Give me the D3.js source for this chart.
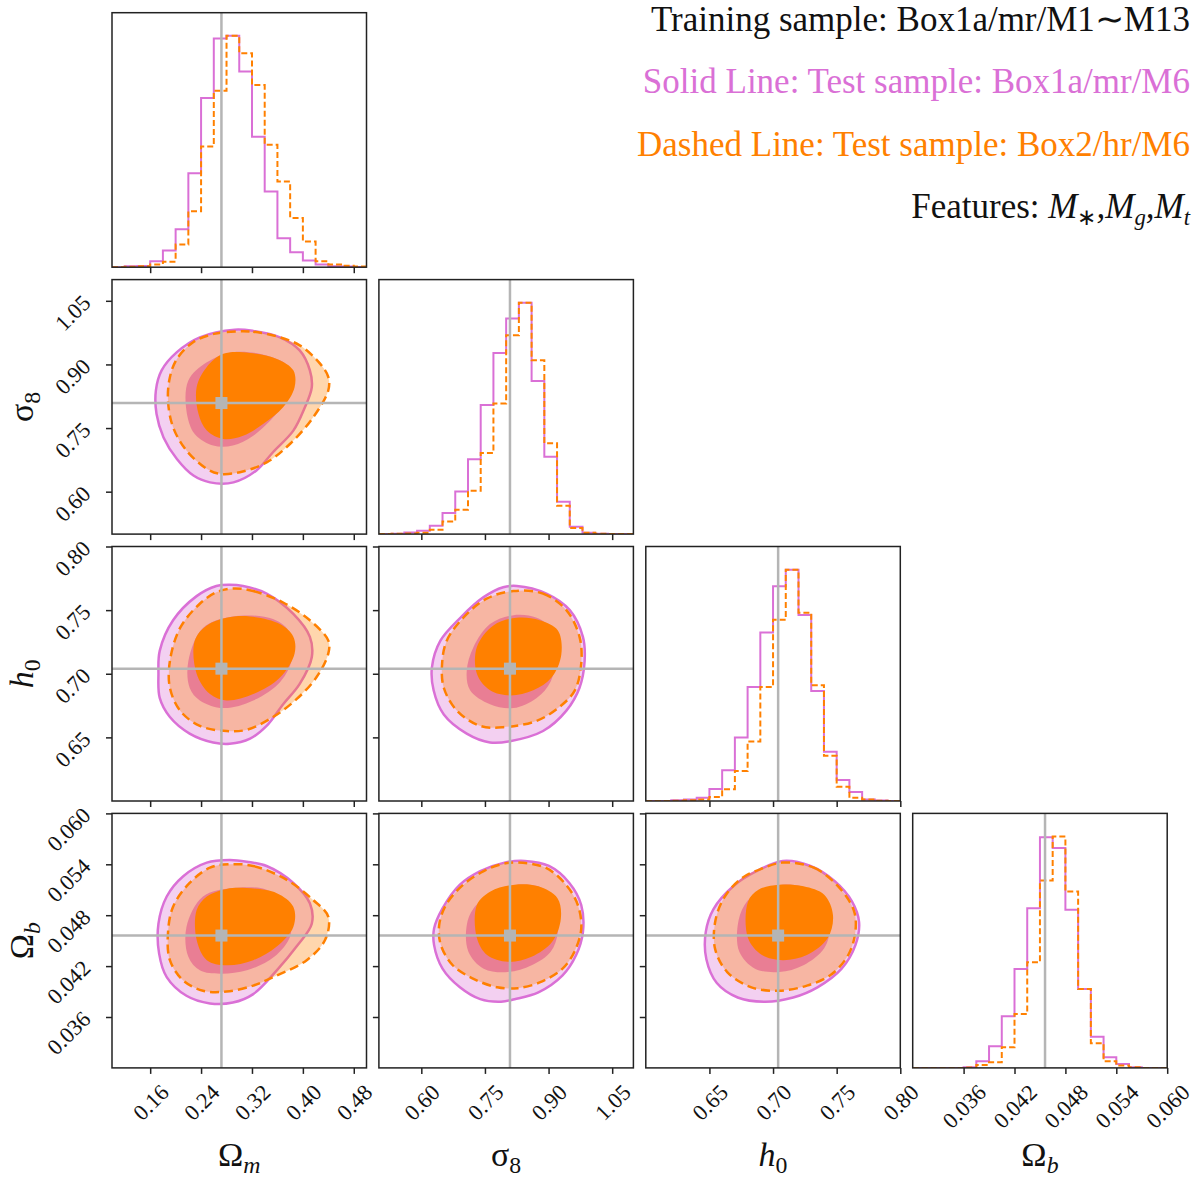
<!DOCTYPE html>
<html>
<head>
<meta charset="utf-8">
<script src="https://cdn.jsdelivr.net/npm/d3@7"></script>
<style>
body{margin:0;background:#fff;}
svg text{font-family:"Liberation Serif","Times New Roman",serif;}
</style>
</head>
<body>
<div id="content"></div>
<script>
//parameters, truths, axis domains and ticks
var paramNames  = ['\u03A9', '\u03C3', 'h', '\u03A9'];
var paramSubs   = ['m', '8', '0', 'b'];
var nameItalic  = [false, false, true, false];
var subItalic   = [true, false, false, true];
var truthValues = [0.272, 0.809, 0.704, 0.0456];
var axisDomains = [[0.10, 0.50], [0.50, 1.10], [0.60, 0.80], [0.030, 0.060]];
var tickValues  = [[0.16, 0.24, 0.32, 0.40, 0.48], [0.60, 0.75, 0.90, 1.05], [0.65, 0.70, 0.75, 0.80], [0.036, 0.042, 0.048, 0.054, 0.060]];
var tickFormats = ['.2f', '.2f', '.2f', '.3f'];

//legend
var legendLines  = ['Training sample: Box1a/mr/M1\u223CM13', 'Solid Line: Test sample: Box1a/mr/M6', 'Dashed Line: Test sample: Box2/hr/M6'];
var legendColors = ['#111', '#da70d6', '#ff8000'];
var featureSubs  = ['\u2217', 'g', 't'];

//1d histograms, 20 bins over the axis domain (relative heights)
var omHistSolid = [0, 0.004, 0.005, 0.026, 0.072, 0.164, 0.406, 0.731, 0.988, 1.0, 0.846, 0.564, 0.327, 0.125, 0.065, 0.029, 0.012, 0.004, 0.003, 0.001];
var omHistDash  = [0, 0.002, 0.004, 0.012, 0.024, 0.098, 0.242, 0.522, 0.763, 1.0, 0.925, 0.787, 0.529, 0.370, 0.213, 0.111, 0.026, 0.012, 0.006, 0.003];
var s8HistSolid = [0, 0.002, 0.007, 0.014, 0.036, 0.091, 0.184, 0.324, 0.558, 0.783, 0.932, 1.0, 0.662, 0.334, 0.140, 0.032, 0.006, 0.002, 0, 0];
var s8HistDash  = [0, 0.001, 0.003, 0.006, 0.019, 0.055, 0.105, 0.187, 0.350, 0.564, 0.860, 1.0, 0.751, 0.393, 0.122, 0.026, 0.006, 0.001, 0, 0];
var h0HistSolid = [0, 0, 0.003, 0.006, 0.014, 0.052, 0.133, 0.275, 0.493, 0.728, 0.928, 1.0, 0.804, 0.475, 0.213, 0.091, 0.039, 0.007, 0.002, 0];
var h0HistDash  = [0, 0, 0.001, 0.003, 0.007, 0.017, 0.051, 0.130, 0.257, 0.493, 0.783, 1.0, 0.814, 0.500, 0.196, 0.062, 0.014, 0.006, 0.001, 0];
var obHistSolid = [0, 0, 0, 0, 0.003, 0.029, 0.094, 0.223, 0.428, 0.690, 0.997, 0.950, 0.684, 0.341, 0.135, 0.046, 0.017, 0.003, 0, 0];
var obHistDash  = [0, 0, 0, 0, 0.002, 0.013, 0.024, 0.089, 0.233, 0.457, 0.810, 1.0, 0.762, 0.341, 0.107, 0.029, 0.010, 0.003, 0, 0];

//2d contours, [x, y] in data units
var omS8SolidOuter = [[0.293,0.982],[0.322,0.979],[0.364,0.964],[0.395,0.933],[0.411,0.886],[0.414,0.846],[0.402,0.795],[0.385,0.744],[0.353,0.693],[0.327,0.650],[0.291,0.622],[0.254,0.622],[0.228,0.638],[0.202,0.677],[0.181,0.728],[0.170,0.783],[0.169,0.839],[0.178,0.886],[0.202,0.929],[0.238,0.964]];
var omS8SolidInner = [[0.290,0.929],[0.343,0.921],[0.378,0.894],[0.383,0.839],[0.358,0.783],[0.322,0.732],[0.290,0.709],[0.259,0.709],[0.230,0.736],[0.217,0.791],[0.220,0.862],[0.249,0.905]];
var omS8DashOuter  = [[0.296,0.978],[0.322,0.977],[0.359,0.966],[0.395,0.945],[0.427,0.902],[0.440,0.870],[0.440,0.839],[0.416,0.775],[0.380,0.713],[0.343,0.669],[0.301,0.646],[0.270,0.642],[0.249,0.654],[0.217,0.697],[0.196,0.752],[0.188,0.815],[0.191,0.870],[0.202,0.913],[0.228,0.953],[0.260,0.972]];
var omS8DashInner  = [[0.275,0.925],[0.317,0.927],[0.359,0.913],[0.385,0.886],[0.387,0.846],[0.369,0.799],[0.338,0.760],[0.306,0.732],[0.275,0.724],[0.249,0.744],[0.236,0.783],[0.233,0.846],[0.249,0.894]];

var omH0SolidOuter = [[0.285,0.770],[0.306,0.769],[0.343,0.763],[0.385,0.747],[0.411,0.729],[0.414,0.713],[0.395,0.692],[0.369,0.676],[0.343,0.659],[0.317,0.649],[0.285,0.645],[0.259,0.646],[0.222,0.653],[0.191,0.666],[0.175,0.681],[0.173,0.700],[0.175,0.718],[0.196,0.742],[0.233,0.761],[0.264,0.769]];
var omH0SolidInner = [[0.220,0.710],[0.222,0.689],[0.238,0.679],[0.275,0.673],[0.322,0.679],[0.365,0.694],[0.383,0.712],[0.380,0.732],[0.353,0.743],[0.290,0.745],[0.243,0.736]];
var omH0DashOuter  = [[0.290,0.767],[0.322,0.765],[0.369,0.756],[0.411,0.742],[0.440,0.726],[0.440,0.716],[0.421,0.697],[0.390,0.680],[0.353,0.666],[0.312,0.656],[0.280,0.655],[0.238,0.659],[0.207,0.671],[0.191,0.689],[0.191,0.710],[0.207,0.736],[0.238,0.755],[0.264,0.764]];
var omH0DashInner  = [[0.230,0.726],[0.233,0.700],[0.254,0.684],[0.280,0.679],[0.322,0.684],[0.364,0.697],[0.387,0.716],[0.385,0.729],[0.364,0.739],[0.317,0.745],[0.280,0.744],[0.249,0.738]];

var s8H0SolidOuter = [[0.825,0.769],[0.895,0.763],[0.950,0.750],[0.981,0.729],[0.985,0.710],[0.973,0.689],[0.942,0.671],[0.887,0.655],[0.809,0.647],[0.762,0.646],[0.707,0.653],[0.653,0.668],[0.629,0.687],[0.625,0.705],[0.645,0.726],[0.692,0.744],[0.746,0.760],[0.793,0.768]];
var s8H0SolidInner = [[0.707,0.702],[0.715,0.687],[0.762,0.676],[0.817,0.673],[0.872,0.681],[0.905,0.694],[0.918,0.715],[0.911,0.734],[0.872,0.744],[0.817,0.746],[0.762,0.739],[0.723,0.721]];
var s8H0DashOuter  = [[0.817,0.765],[0.887,0.763],[0.942,0.750],[0.973,0.729],[0.977,0.708],[0.962,0.687],[0.926,0.674],[0.872,0.663],[0.793,0.658],[0.739,0.659],[0.684,0.671],[0.653,0.689],[0.649,0.708],[0.660,0.726],[0.699,0.744],[0.754,0.759]];
var s8H0DashInner  = [[0.731,0.721],[0.731,0.700],[0.762,0.687],[0.809,0.683],[0.864,0.687],[0.907,0.697],[0.930,0.715],[0.922,0.734],[0.879,0.742],[0.825,0.744],[0.770,0.738]];

var omObSolidOuter = [[0.285,0.0545],[0.312,0.0543],[0.343,0.0538],[0.385,0.0518],[0.411,0.0494],[0.414,0.0470],[0.390,0.0443],[0.359,0.0415],[0.322,0.0387],[0.290,0.0377],[0.254,0.0376],[0.217,0.0385],[0.186,0.0407],[0.174,0.0435],[0.173,0.0470],[0.186,0.0502],[0.212,0.0526],[0.249,0.0542]];
var omObSolidInner = [[0.217,0.0466],[0.220,0.0431],[0.238,0.0415],[0.270,0.0411],[0.312,0.0415],[0.355,0.0431],[0.380,0.0455],[0.380,0.0474],[0.370,0.0494],[0.343,0.0510],[0.290,0.0512],[0.243,0.0502]];
var omObDashOuter  = [[0.285,0.0540],[0.322,0.0538],[0.374,0.0522],[0.416,0.0498],[0.440,0.0478],[0.435,0.0451],[0.406,0.0427],[0.353,0.0407],[0.322,0.0397],[0.280,0.0390],[0.243,0.0391],[0.212,0.0403],[0.191,0.0427],[0.188,0.0459],[0.196,0.0490],[0.222,0.0518],[0.254,0.0536]];
var omObDashInner  = [[0.233,0.0486],[0.233,0.0451],[0.249,0.0427],[0.280,0.0421],[0.322,0.0427],[0.359,0.0443],[0.385,0.0466],[0.385,0.0490],[0.359,0.0506],[0.312,0.0512],[0.280,0.0511],[0.249,0.0502]];

var s8ObSolidOuter = [[0.844,0.0544],[0.901,0.0538],[0.949,0.0518],[0.977,0.0492],[0.981,0.0460],[0.965,0.0433],[0.933,0.0409],[0.876,0.0389],[0.820,0.0381],[0.788,0.0378],[0.739,0.0381],[0.691,0.0395],[0.650,0.0417],[0.630,0.0445],[0.630,0.0464],[0.650,0.0488],[0.691,0.0516],[0.739,0.0532],[0.796,0.0542]];
var s8ObSolidInner = [[0.707,0.0468],[0.711,0.0437],[0.747,0.0417],[0.804,0.0413],[0.860,0.0421],[0.905,0.0437],[0.922,0.0460],[0.918,0.0492],[0.885,0.0512],[0.828,0.0516],[0.771,0.0508],[0.723,0.0488]];
var s8ObDashOuter  = [[0.828,0.0542],[0.893,0.0536],[0.941,0.0516],[0.969,0.0492],[0.977,0.0464],[0.961,0.0437],[0.933,0.0417],[0.885,0.0402],[0.828,0.0394],[0.779,0.0395],[0.723,0.0405],[0.674,0.0421],[0.646,0.0445],[0.642,0.0468],[0.658,0.0492],[0.699,0.0516],[0.747,0.0532],[0.788,0.0540]];
var s8ObDashInner  = [[0.731,0.0492],[0.731,0.0453],[0.755,0.0433],[0.804,0.0425],[0.860,0.0431],[0.909,0.0449],[0.929,0.0476],[0.921,0.0500],[0.876,0.0514],[0.820,0.0516],[0.763,0.0508]];

var h0ObSolidOuter = [[0.7076,0.0544],[0.7294,0.0538],[0.7485,0.0520],[0.7621,0.0496],[0.7676,0.0472],[0.7648,0.0445],[0.7539,0.0417],[0.7349,0.0395],[0.7158,0.0383],[0.6939,0.0378],[0.6722,0.0383],[0.6558,0.0400],[0.6476,0.0428],[0.6471,0.0460],[0.6531,0.0487],[0.6694,0.0515],[0.6858,0.0531]];
var h0ObSolidInner = [[0.6722,0.0468],[0.6735,0.0437],[0.6858,0.0417],[0.7049,0.0413],[0.7239,0.0421],[0.7402,0.0441],[0.7450,0.0468],[0.7420,0.0496],[0.7266,0.0512],[0.7076,0.0516],[0.6885,0.0508],[0.6776,0.0492]];
var h0ObDashOuter  = [[0.7076,0.0542],[0.7321,0.0536],[0.7512,0.0514],[0.7634,0.0486],[0.7648,0.0462],[0.7594,0.0434],[0.7457,0.0410],[0.7266,0.0397],[0.7049,0.0391],[0.6830,0.0395],[0.6640,0.0413],[0.6545,0.0440],[0.6545,0.0472],[0.6613,0.0500],[0.6749,0.0523],[0.6913,0.0535]];
var h0ObDashInner  = [[0.6803,0.0496],[0.6803,0.0453],[0.6913,0.0433],[0.7076,0.0427],[0.7266,0.0433],[0.7430,0.0453],[0.7471,0.0480],[0.7402,0.0504],[0.7239,0.0514],[0.7049,0.0516],[0.6885,0.0510]];

var histSolid = [omHistSolid, s8HistSolid, h0HistSolid, obHistSolid];
var histDash  = [omHistDash, s8HistDash, h0HistDash, obHistDash];
//lookup by "row,col"
var contourSets = {
    '1,0': [omS8SolidOuter, omS8SolidInner, omS8DashOuter, omS8DashInner],
    '2,0': [omH0SolidOuter, omH0SolidInner, omH0DashOuter, omH0DashInner],
    '2,1': [s8H0SolidOuter, s8H0SolidInner, s8H0DashOuter, s8H0DashInner],
    '3,0': [omObSolidOuter, omObSolidInner, omObDashOuter, omObDashInner],
    '3,1': [s8ObSolidOuter, s8ObSolidInner, s8ObDashOuter, s8ObDashInner],
    '3,2': [h0ObSolidOuter, h0ObSolidInner, h0ObDashOuter, h0ObDashInner]
};

//layout + style
var panelX0    = 112;
var panelY0    = 12.7;
var panelSize  = 254.5;
var panelStep  = 266.9;
var solidColor = '#da70d6';
var dashColor  = '#ff8000';
var truthColor = '#b5b5b5';
var frameColor = '#222';
var tickFont   = 22.5;
var labelFont  = 34;
var legendFont = 35;
var nParams    = 4;

var svg = d3.select('#content').append('svg')
    .attr('width', 1200)
    .attr('height', 1179)
    .attr('viewBox', '0 0 1200 1179');

svg.append('rect').attr('width', 1200).attr('height', 1179).attr('fill', '#fff');

function colX(i){ return panelX0 + i * panelStep; }
function rowY(i){ return panelY0 + i * panelStep; }

var xScales = axisDomains.map(function(d, i){
    return d3.scaleLinear().domain(d).range([colX(i), colX(i) + panelSize]);
});
var yScales = axisDomains.map(function(d, i){
    return d3.scaleLinear().domain(d).range([rowY(i) + panelSize, rowY(i)]);
});

var defs = svg.append('defs');

function makePanel(r, c){
    var id = 'clip' + r + c;
    defs.append('clipPath').attr('id', id).append('rect')
        .attr('x', colX(c)).attr('y', rowY(r))
        .attr('width', panelSize).attr('height', panelSize);
    var g = svg.append('g').attr('class', 'panel');
    var inner = g.append('g').attr('clip-path', 'url(#' + id + ')');
    return {g: g, inner: inner};
}

//step histogram path
function drawHist(g, values, xs, ys, color, dash){
    var n = values.length;
    var d0 = xs.domain()[0], d1 = xs.domain()[1];
    var pts = [[d0, 0]];
    values.forEach(function(v, k){ pts.push([d0 + k * (d1 - d0) / n, v]); });
    pts.push([d1, 0]);
    var line = d3.line()
        .x(function(d){ return xs(d[0]); })
        .y(function(d){ return ys(d[1]); })
        .curve(d3.curveStepAfter);
    g.append('path')
        .attr('d', line(pts))
        .attr('fill', 'none')
        .attr('stroke', color)
        .attr('stroke-width', 2)
        .attr('stroke-dasharray', dash ? '6,3' : null);
}

function drawContour(g, pts, xs, ys, fill, opacity, stroke, dash){
    var line = d3.line()
        .x(function(d){ return xs(d[0]); })
        .y(function(d){ return ys(d[1]); })
        .curve(d3.curveCatmullRomClosed.alpha(0.5));
    g.append('path')
        .attr('d', line(pts))
        .attr('fill', fill)
        .attr('fill-opacity', opacity)
        .attr('stroke', stroke || 'none')
        .attr('stroke-width', stroke ? 2.5 : 0)
        .attr('stroke-dasharray', dash ? '9,5' : null)
        .attr('stroke-linejoin', 'round');
}

function drawBottomAxis(g, c, bottom, withLabels){
    var ax = g.append('g')
        .attr('transform', 'translate(0,' + bottom + ')')
        .attr('font-family', '"Liberation Serif", serif')
        .call(d3.axisBottom(xScales[c]).tickValues(tickValues[c]).tickSize(6).tickSizeOuter(0)
            .tickFormat(withLabels ? d3.format(tickFormats[c]) : ''));
    ax.select('.domain').remove();
    ax.selectAll('.tick line').attr('stroke', frameColor).attr('stroke-width', 1.5);
    if(!withLabels){ ax.selectAll('.tick text').remove(); return; }
    ax.selectAll('.tick text')
        .attr('font-size', tickFont)
        .attr('fill', '#111')
        .attr('text-anchor', 'middle')
        .attr('dy', '0.35em')
        .each(function(){
            var L = this.getComputedTextLength();
            var cy = 15 + 0.354 * (L + 0.68 * tickFont);
            d3.select(this).attr('x', 0).attr('y', cy)
                .attr('transform', 'rotate(-45,0,' + cy + ')');
        });
}

function drawLeftAxis(g, r, left, withLabels){
    var ax = g.append('g')
        .attr('transform', 'translate(' + left + ',0)')
        .attr('font-family', '"Liberation Serif", serif')
        .call(d3.axisLeft(yScales[r]).tickValues(tickValues[r]).tickSize(6).tickSizeOuter(0)
            .tickFormat(withLabels ? d3.format(tickFormats[r]) : ''));
    ax.select('.domain').remove();
    ax.selectAll('.tick line').attr('stroke', frameColor).attr('stroke-width', 1.5);
    if(!withLabels){ ax.selectAll('.tick text').remove(); return; }
    ax.selectAll('.tick text')
        .attr('font-size', tickFont)
        .attr('fill', '#111')
        .attr('text-anchor', 'end')
        .attr('x', -20)
        .attr('y', 3)
        .attr('dy', 0)
        .attr('transform', 'rotate(-45,-20,3)');
}

function drawFrame(g, r, c){
    g.append('rect')
        .attr('x', colX(c)).attr('y', rowY(r))
        .attr('width', panelSize).attr('height', panelSize)
        .attr('fill', 'none')
        .attr('stroke', frameColor)
        .attr('stroke-width', 1.5);
}

function axisLabel(sel, i){
    sel.append('tspan').attr('font-style', nameItalic[i] ? 'italic' : 'normal').text(paramNames[i]);
    sel.append('tspan').attr('font-style', subItalic[i] ? 'italic' : 'normal')
        .attr('font-size', labelFont * 0.7).attr('dy', labelFont * 0.2).text(paramSubs[i]);
}

//draw the corner grid
for(var r = 0; r < nParams; r++){
    for(var c = 0; c <= r; c++){
        var p = makePanel(r, c);
        var xs = xScales[c];
        if(r == c){
            var hmax = d3.max(histSolid[c].concat(histDash[c]));
            var hs = d3.scaleLinear().domain([0, 1.1 * hmax]).range([rowY(r) + panelSize, rowY(r)]);
            drawHist(p.inner, histSolid[c], xs, hs, solidColor, false);
            drawHist(p.inner, histDash[c], xs, hs, dashColor, true);
            p.inner.append('line')
                .attr('x1', xs(truthValues[c])).attr('x2', xs(truthValues[c]))
                .attr('y1', rowY(r)).attr('y2', rowY(r) + panelSize)
                .attr('stroke', truthColor).attr('stroke-width', 2.5);
        }else{
            var ys = yScales[r];
            var cs = contourSets[r + ',' + c];
            drawContour(p.inner, cs[0], xs, ys, solidColor, 0.33, null, false);
            drawContour(p.inner, cs[1], xs, ys, solidColor, 0.85, null, false);
            drawContour(p.inner, cs[0], xs, ys, 'none', 0, solidColor, false);
            drawContour(p.inner, cs[2], xs, ys, dashColor, 0.32, null, false);
            drawContour(p.inner, cs[3], xs, ys, dashColor, 1, null, false);
            drawContour(p.inner, cs[2], xs, ys, 'none', 0, dashColor, true);
            p.inner.append('line')
                .attr('x1', xs(truthValues[c])).attr('x2', xs(truthValues[c]))
                .attr('y1', rowY(r)).attr('y2', rowY(r) + panelSize)
                .attr('stroke', truthColor).attr('stroke-width', 2.5);
            p.inner.append('line')
                .attr('x1', colX(c)).attr('x2', colX(c) + panelSize)
                .attr('y1', ys(truthValues[r])).attr('y2', ys(truthValues[r]))
                .attr('stroke', truthColor).attr('stroke-width', 2.5);
            p.inner.append('rect')
                .attr('x', xs(truthValues[c]) - 6).attr('y', ys(truthValues[r]) - 6)
                .attr('width', 12).attr('height', 12)
                .attr('fill', truthColor);
            drawLeftAxis(p.g, r, colX(c), c == 0);
        }
        drawBottomAxis(p.g, c, rowY(r) + panelSize, r == nParams - 1);
        drawFrame(p.g, r, c);
    }
}

//axis labels
for(var i = 0; i < nParams; i++){
    var bl = svg.append('text')
        .attr('x', colX(i) + panelSize / 2)
        .attr('y', 1166)
        .attr('text-anchor', 'middle')
        .attr('font-size', labelFont)
        .attr('fill', '#111');
    axisLabel(bl, i);
    if(i > 0){
        var cy = rowY(i) + panelSize / 2;
        var ll = svg.append('text')
            .attr('x', 0).attr('y', 0)
            .attr('transform', 'translate(33,' + cy + ') rotate(-90)')
            .attr('text-anchor', 'middle')
            .attr('font-size', labelFont)
            .attr('fill', '#111');
        axisLabel(ll, i);
    }
}

//legend text, top right
legendLines.forEach(function(t, k){
    svg.append('text')
        .attr('x', 1190).attr('y', 31 + k * 62.3)
        .attr('text-anchor', 'end')
        .attr('font-size', legendFont)
        .attr('fill', legendColors[k])
        .text(t);
});
var feat = svg.append('text')
    .attr('x', 1190).attr('y', 31 + 3 * 62.3)
    .attr('text-anchor', 'end')
    .attr('font-size', legendFont)
    .attr('fill', '#111');
feat.append('tspan').text('Features: ');
featureSubs.forEach(function(s, k){
    feat.append('tspan').attr('font-style', 'italic').attr('dy', k > 0 ? -7 : 0).text((k > 0 ? ',' : '') + 'M');
    feat.append('tspan').attr('font-style', s == '\u2217' ? 'normal' : 'italic')
        .attr('font-size', legendFont * 0.65).attr('dy', 7).text(s);
});
</script>
</body>
</html>
